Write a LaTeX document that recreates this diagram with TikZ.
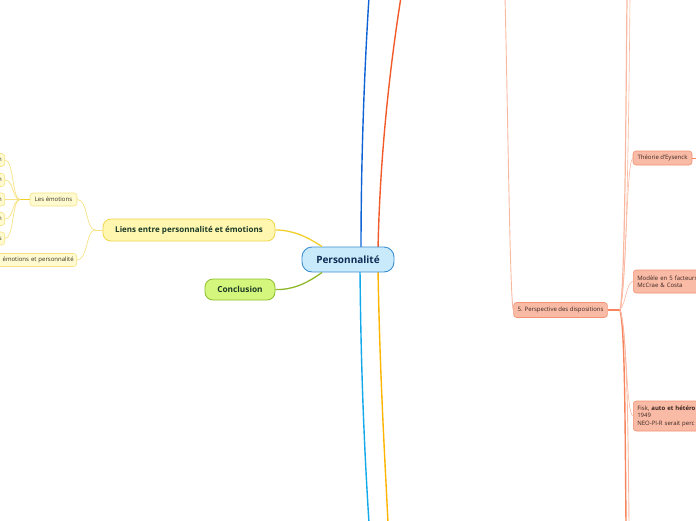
\documentclass[tikz,border=0pt]{standalone}
\usepackage{fontspec}
\setmainfont{Open Sans}
\begin{document}
\begin{tikzpicture}[x=1pt,y=-1pt,
  central/.style={draw=cborder,fill=cfill,line width=0.9pt,rounded corners=10pt,minimum width=92pt,minimum height=25pt,inner sep=0pt,font=\fontsize{10}{12}\selectfont\bfseries,text=ctext},
  ybig/.style={draw=yborder,fill=yfill,line width=0.8pt,rounded corners=8pt,minimum height=22pt,inner sep=0pt,font=\fontsize{8}{10}\selectfont\bfseries,text=gtext},
  gbig/.style={draw=gborder,fill=gfill,line width=0.8pt,rounded corners=8pt,minimum height=21pt,inner sep=0pt,font=\fontsize{8.3}{10}\selectfont\bfseries,text=gtext},
  ysmall/.style={draw=ysborder,fill=ysfill,line width=0.6pt,rounded corners=3pt,minimum height=13pt,inner xsep=3pt,inner ysep=0pt,font=\fontsize{6}{7}\selectfont,text=stext},
  snode/.style={draw=sborder,fill=sfill,line width=0.6pt,rounded corners=3pt,minimum height=14pt,inner xsep=4pt,inner ysep=2pt,font=\fontsize{6}{7.5}\selectfont,text=rtext,align=left},
  yline/.style={draw=ylcol,line width=1.3pt},
  ylthin/.style={draw=ysborder,line width=0.7pt},
  sline/.style={draw=slcol,line width=0.6pt},
]
\definecolor{cborder}{HTML}{3C8FD0}
\definecolor{cfill}{HTML}{C8EAFB}
\definecolor{ctext}{HTML}{0F2C55}
\definecolor{yborder}{HTML}{F0D54A}
\definecolor{yfill}{HTML}{FFF7B0}
\definecolor{gborder}{HTML}{8CBE2A}
\definecolor{gfill}{HTML}{D4F67C}
\definecolor{gtext}{HTML}{1B3A28}
\definecolor{ysborder}{HTML}{F6E284}
\definecolor{ysfill}{HTML}{FFFAD0}
\definecolor{stext}{HTML}{3A3320}
\definecolor{sborder}{HTML}{F39273}
\definecolor{sfill}{HTML}{F9BBA5}
\definecolor{rtext}{HTML}{3B2520}
\definecolor{ylcol}{HTML}{F0D02A}
\definecolor{glcol}{HTML}{8DB82A}
\definecolor{slcol}{HTML}{F9B8A2}
\definecolor{blcol}{HTML}{0D62D6}
\definecolor{cycol}{HTML}{12A9EA}
\definecolor{rdcol}{HTML}{F25A2A}
\definecolor{amcol}{HTML}{FFB400}
\definecolor{smcol}{HTML}{F6845C}

\useasboundingbox (0,0) rectangle (696,520);
\clip (0,0) rectangle (696,520);

% free ends
\coordinate (btop) at (369,-3);
\coordinate (rtop) at (401,-3);
\coordinate (cbot) at (369,523);
\coordinate (abot) at (388,523);
\coordinate (stop) at (505,-3);
\coordinate (jS) at (620,310);
\coordinate (jtop1) at (627,-3);
\coordinate (jtop2) at (630,-3);
\coordinate (jbot1) at (626,523);
\coordinate (jbot2) at (629,523);
\coordinate (tr) at (699,158);
\coordinate (jE) at (20,199.5);
\coordinate (jL) at (95,230);

% main vertical branches (drawn first, behind the central node)
\draw[blcol,line width=1.4pt] (361,250) .. controls (361,150) and (365,60) .. (btop);
\draw[rdcol,line width=1.4pt] (378,250) .. controls (380,150) and (391,60) .. (rtop);
\draw[cycol,line width=1.4pt] (360,270) .. controls (361,380) and (365,460) .. (cbot);
\draw[amcol,line width=1.4pt] (378,270) .. controls (380,380) and (385,460) .. (abot);

% nodes
\node[central] (P) at (348,259.5) {Personnalité};
\node[ybig,minimum width=172pt] (L) at (189,230) {Liens entre personnalité et émotions};
\node[gbig,minimum width=70pt] (C) at (240,289.5) {Conclusion};
\node[ysmall,minimum width=47pt,inner xsep=0pt] (E) at (53.5,199.5) {Les émotions};
\node[ysmall,anchor=east,text width=24pt,align=right] (a1) at (5,160) {n};
\node[ysmall,anchor=east,text width=24pt,align=right] (a2) at (5,180) {n};
\node[ysmall,anchor=east,text width=24pt,align=right] (a3) at (5,199.5) {n};
\node[ysmall,anchor=east,text width=24pt,align=right] (a4) at (5,219) {n};
\node[ysmall,anchor=east,text width=24pt,align=right] (a5) at (5,238.5) {s};
\node[ysmall,anchor=east,text width=90pt,align=right] (a6) at (77,260) {n émotions et personnalité};

\node[snode,minimum width=93pt,minimum height=15pt] (S) at (560.5,310) {5. Perspective des dispositions};
\node[snode,minimum width=59pt] (T) at (662.5,158) {Théorie d'Eysenck};
\node[snode,anchor=west,text width=80pt,minimum height=23pt] (M) at (633,281.5) {Modèle en 5 facteurs\\McCrae \& Costa};
\node[snode,anchor=west,text width=80pt,minimum height=30pt] (F) at (633,416) {Fisk, \textbf{auto et hétéro é}\\1949\\NEO-PI-R serait perc};

% central to children
\draw[yline] ([xshift=-26pt]P.north) .. controls (306,236) and (292,230) .. (L.east);
\draw[glcol,line width=1.3pt] ([xshift=-26pt]P.south) .. controls (306,284) and (292,290) .. (C.east);

% Liens subtree
\draw[ylthin,line width=0.9pt] (L.west) -- (jL);
\draw[ylthin] (jL) .. controls (86,230) and (88,199.5) .. (E.east);
\draw[ylthin] (jL) .. controls (86,230) and (88,260) .. (a6.east);
\draw[ylcol,line width=1.2pt] (E.west) -- (jE);
\draw[ylthin] (jE) .. controls (12,199.5) and (14,160) .. (a1.east);
\draw[ylthin] (jE) .. controls (12,199.5) and (14,180) .. (a2.east);
\draw[ylthin] (jE) -- (a3.east);
\draw[ylthin] (jE) .. controls (12,199.5) and (14,219) .. (a4.east);
\draw[ylthin] (jE) .. controls (12,199.5) and (14,238.5) .. (a5.east);

% right subtree
\draw[sline,line width=0.9pt] (S.west) .. controls (510,300) and (508,120) .. (stop);
\draw[smcol,line width=1.3pt] (S.east) -- (jS);
\draw[sline,line width=1.2pt] (jS) .. controls (625,290) and (626,100) .. (jtop1);
\draw[sline] (jS) .. controls (627,290) and (629,100) .. (jtop2);
\draw[sline] (jS) .. controls (627,280) and (626,165) .. (T.west);
\draw[sline] (jS) .. controls (627,300) and (626,283) .. (M.west);
\draw[sline] (jS) .. controls (627,330) and (626,414) .. (F.west);
\draw[smcol,line width=1.4pt] (jS) .. controls (625,330) and (625,420) .. (jbot1);
\draw[sline,line width=0.9pt] (jS) .. controls (627,330) and (628,420) .. (jbot2);
\draw[smcol,line width=1pt] (T.east) -- (tr);
\end{tikzpicture}
\end{document}
